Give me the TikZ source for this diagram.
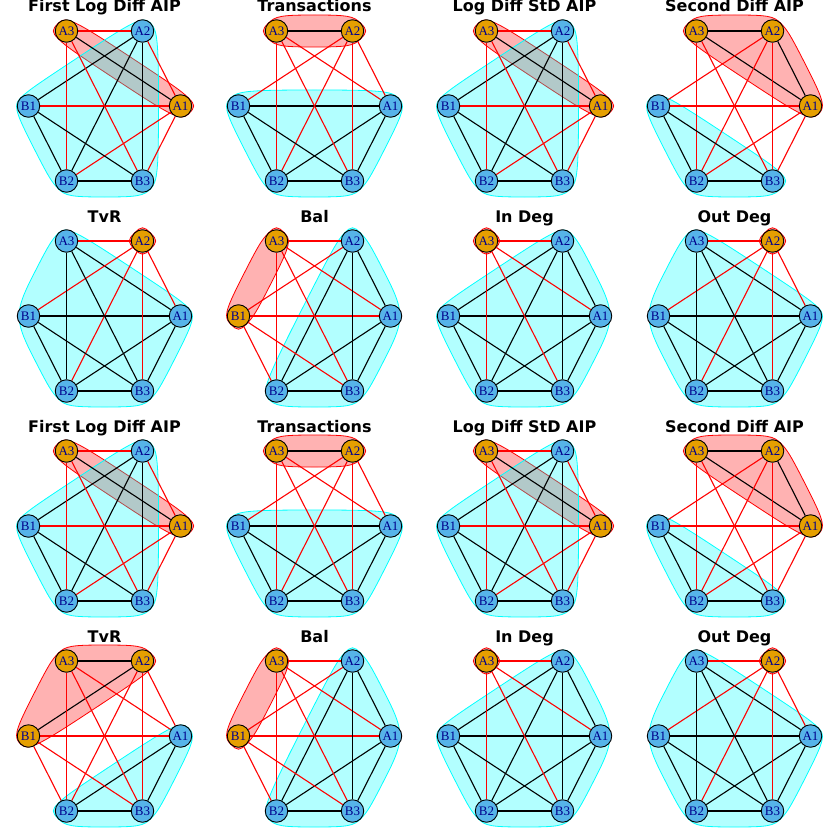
\documentclass[tikz,border=0pt]{standalone}
\usepackage{fontspec}
\setmainfont{Liberation Serif}
\newfontfamily\ttlfont{DejaVu Sans}
\usetikzlibrary{calc}
\pgfdeclarelayer{hulls}
\pgfdeclarelayer{edges}
\pgfsetlayers{hulls,edges,main}
\definecolor{vorange}{HTML}{E69F00}
\definecolor{vblue}{HTML}{56B4E9}
\definecolor{labblue}{HTML}{00008B}
\definecolor{hred}{RGB}{255,0,0}
\definecolor{hcyan}{RGB}{0,255,255}
\def\hr{16}
\def\cf{0.065}
\tikzset{
  vtx/.style={circle, draw=black, line width=0.9pt, minimum size=22.5pt, inner sep=0pt,
    font=\fontsize{13}{13}\selectfont, text=labblue},
  edge/.style={line width=1.1pt},
  ttl/.style={font=\ttlfont\bfseries\fontsize{16}{18}\selectfont, inner sep=0pt, anchor=base},
  redhull/.style={draw=hred, fill=hred, fill opacity=0.3, line width=0.8pt},
  cyanhull/.style={draw=hcyan, fill=hcyan, fill opacity=0.3, line width=0.8pt}
}
\newcommand\hullcurve[2]{%
  \foreach \p [count=\k] in {#2} {\coordinate (h\k) at (\p); \xdef\hn{\k}}
  \begin{pgfonlayer}{hulls}
  \draw[#1] ($(h\hn)!0.5!(h1)$)
    \foreach \i [evaluate=\i as \hp using {int(mod(\i+\hn-2,\hn)+1)},
                 evaluate=\i as \nx using {int(mod(\i,\hn)+1)}] in {1,...,\hn} {
      .. controls ($(h\i)!\cf!(h\hp)$) and ($(h\i)!\cf!(h\nx)$) .. ($(h\i)!0.5!(h\nx)$)
    } -- cycle;
  \end{pgfonlayer}}
\newcommand\panel[6]{%
  \begin{scope}[shift={(#1*210,#2*210)}, name prefix=p#1#2-]
    \node[ttl] (title) at (104.5,12) {#3};
    \foreach \n in {A1,A2,A3,B1,B2,B3} {\expandafter\xdef\csname grp\n\endcsname{2}}
    \foreach \n in {#4} {\expandafter\xdef\csname grp\n\endcsname{1}}
    \foreach \n/\x/\y in {A3/66.5/31, A2/142.5/31, B1/28.5/106, A1/180.5/106, B2/66.5/181, B3/142.5/181} {
      \ifnum\csname grp\n\endcsname=1 \def\vc{vorange}\else\def\vc{vblue}\fi
      \node[vtx, fill=\vc] (\n) at (\x,\y) {\n};
      \coordinate (\n-T) at ($(\n)+(0,-\hr)$);
      \coordinate (\n-B) at ($(\n)+(0,\hr)$);
      \coordinate (\n-L) at ($(\n)+(-\hr,0)$);
      \coordinate (\n-R) at ($(\n)+(\hr,0)$);
    }
    \begin{pgfonlayer}{edges}
    \foreach \a/\b in {A1/A2,A1/A3,A1/B1,A1/B2,A1/B3,A2/A3,A2/B1,A2/B2,A2/B3,A3/B2,A3/B3,B1/B2,B1/B3,B2/B3} {
      \ifnum\csname grp\a\endcsname=\csname grp\b\endcsname\relax \def\ec{black}\else\def\ec{hred}\fi
      \draw[edge, draw=\ec] (\a) -- (\b);
    }
    \end{pgfonlayer}
    \hullcurve{redhull}{#5}
    \hullcurve{cyanhull}{#6}
  \end{scope}}
\begin{document}
\begin{tikzpicture}[x=1pt, y=-1pt]
\useasboundingbox (0,0) rectangle (840,840);
\begin{pgfonlayer}{hulls}
\fill[white] (0,0) rectangle (840,840);
\end{pgfonlayer}
% row 0
\panel{0}{0}{First Log Diff AIP}{A3,A1}
  {A1-T,A1-R,A1-B,A3-B,A3-L,A3-T}
  {A2-T,A2-R,B3-R,B3-B,B2-B,B2-L,B1-L,B1-T}
\panel{1}{0}{Transactions}{A3,A2}
  {A2-T,A2-R,A2-B,A3-B,A3-L,A3-T}
  {A1-T,A1-R,B3-R,B3-B,B2-B,B2-L,B1-L,B1-T}
\panel{2}{0}{Log Diff StD AIP}{A3,A1}
  {A1-T,A1-R,A1-B,A3-B,A3-L,A3-T}
  {A2-T,A2-R,B3-R,B3-B,B2-B,B2-L,B1-L,B1-T}
\panel{3}{0}{Second Diff AIP}{A3,A2,A1}
  {A3-B,A3-L,A3-T,A2-T,A2-R,A1-R,A1-B}
  {B3-T,B3-R,B3-B,B2-B,B2-L,B1-L,B1-T}
% row 1
\panel{0}{1}{TvR}{A2}
  {A2-R,A2-B,A2-L,A2-T}
  {A1-T,A1-R,B3-R,B3-B,B2-B,B2-L,B1-L,A3-L,A3-T}
\panel{1}{1}{Bal}{A3,B1}
  {A3-L,A3-T,A3-R,B1-R,B1-B,B1-L}
  {A1-R,B3-R,B3-B,B2-B,B2-L,A2-L,A2-T,A2-R}
\panel{2}{1}{In Deg}{A3}
  {A3-R,A3-B,A3-L,A3-T}
  {A1-R,B3-R,B3-B,B2-B,B2-L,B1-L,B1-T,A2-T,A2-R}
\panel{3}{1}{Out Deg}{A2}
  {A2-R,A2-B,A2-L,A2-T}
  {A1-T,A1-R,B3-R,B3-B,B2-B,B2-L,B1-L,A3-L,A3-T}
% row 2
\panel{0}{2}{First Log Diff AIP}{A3,A1}
  {A1-T,A1-R,A1-B,A3-B,A3-L,A3-T}
  {A2-T,A2-R,B3-R,B3-B,B2-B,B2-L,B1-L,B1-T}
\panel{1}{2}{Transactions}{A3,A2}
  {A2-T,A2-R,A2-B,A3-B,A3-L,A3-T}
  {A1-T,A1-R,B3-R,B3-B,B2-B,B2-L,B1-L,B1-T}
\panel{2}{2}{Log Diff StD AIP}{A3,A1}
  {A1-T,A1-R,A1-B,A3-B,A3-L,A3-T}
  {A2-T,A2-R,B3-R,B3-B,B2-B,B2-L,B1-L,B1-T}
\panel{3}{2}{Second Diff AIP}{A3,A2,A1}
  {A3-B,A3-L,A3-T,A2-T,A2-R,A1-R,A1-B}
  {B3-T,B3-R,B3-B,B2-B,B2-L,B1-L,B1-T}
% row 3
\panel{0}{3}{TvR}{A3,A2,B1}
  {B1-B,B1-L,A3-L,A3-T,A2-T,A2-R,A2-B}
  {A1-T,A1-R,B3-R,B3-B,B2-B,B2-L,B2-T}
\panel{1}{3}{Bal}{A3,B1}
  {A3-L,A3-T,A3-R,B1-R,B1-B,B1-L}
  {A1-R,B3-R,B3-B,B2-B,B2-L,A2-L,A2-T,A2-R}
\panel{2}{3}{In Deg}{A3}
  {A3-R,A3-B,A3-L,A3-T}
  {A1-R,B3-R,B3-B,B2-B,B2-L,B1-L,B1-T,A2-T,A2-R}
\panel{3}{3}{Out Deg}{A2}
  {A2-R,A2-B,A2-L,A2-T}
  {A1-T,A1-R,B3-R,B3-B,B2-B,B2-L,B1-L,A3-L,A3-T}
\end{tikzpicture}
\end{document}
